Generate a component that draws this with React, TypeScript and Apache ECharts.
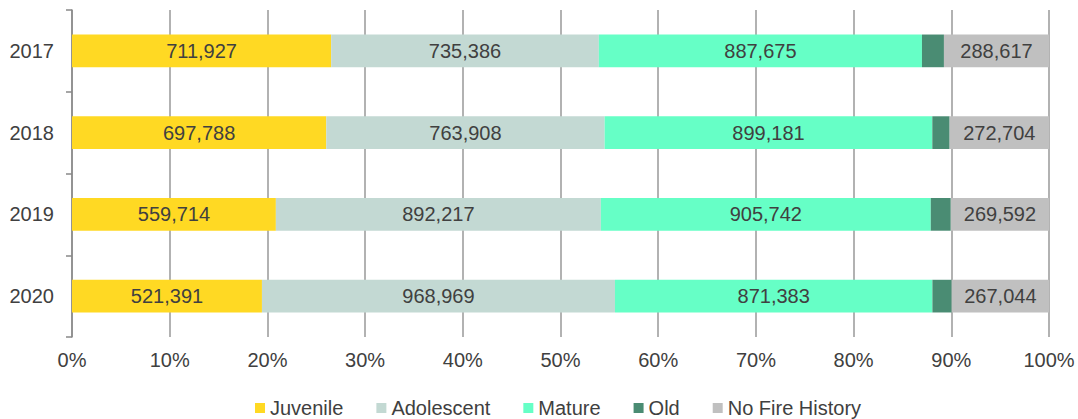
import React, { useEffect, useRef } from "react";
import * as echarts from "echarts";

const years = ["2017", "2018", "2019", "2020"];
const seriesNames = ["Juvenile", "Adolescent", "Mature", "Old", "No Fire History"];
const juvenile = [711927, 697788, 559714, 521391];
const adolescent = [735386, 763908, 892217, 968969];
const mature = [887675, 899181, 905742, 871383];
const old = [60400, 47500, 55000, 53000];
const noFireHistory = [288617, 272704, 269592, 267044];
const colors = ["#FFD923", "#C3D9D3", "#66FFC6", "#4A8C73", "#C0C0C0"];
const showLabel = [true, true, true, false, true];

export default function App() {
  const ref = useRef<HTMLDivElement>(null);
  useEffect(() => {
    if (!ref.current) return;
    const chart = echarts.init(ref.current, null, { renderer: "svg" });
    const raw = [juvenile, adolescent, mature, old, noFireHistory];
    const totals = years.map((_, i) => raw.reduce((s, arr) => s + arr[i], 0));
    const font = "'Liberation Sans', Arial, sans-serif";
    chart.setOption({
      animation: false,
      grid: { left: 72, right: 29, top: 10, bottom: 82 },
      legend: {
        data: seriesNames,
        left: 250,
        top: 393,
        itemWidth: 10,
        itemHeight: 10,
        itemGap: 33,
        icon: "rect",
        textStyle: { fontFamily: font, fontSize: 20, color: "#404040" },
      },
      xAxis: {
        type: "value",
        min: 0,
        max: 100,
        interval: 10,
        axisLine: { show: false },
        axisTick: { show: false },
        axisLabel: {
          formatter: "{value}%",
          fontFamily: font,
          fontSize: 20,
          color: "#404040",
          margin: 13,
        },
        splitLine: { show: true, lineStyle: { color: "#999", width: 1.5 } },
      },
      yAxis: {
        type: "category",
        data: years,
        inverse: true,
        axisLine: { show: true, lineStyle: { color: "#888", width: 1.5 } },
        axisTick: { show: true, length: 6, lineStyle: { color: "#888", width: 1.5 } },
        axisLabel: { fontFamily: font, fontSize: 20, color: "#404040", margin: 18 },
      },
      series: seriesNames.map((name, k) => ({
        name,
        type: "bar",
        stack: "total",
        barWidth: "40%",
        itemStyle: { color: colors[k] },
        label: {
          show: showLabel[k],
          position: "inside",
          fontFamily: font,
          fontSize: 20,
          color: "#404040",
          formatter: (p: any) => raw[k][p.dataIndex].toLocaleString("en-US"),
        },
        data: raw[k].map((v, i) => (v / totals[i]) * 100),
      })),
    });
    return () => chart.dispose();
  }, []);
  return (
    <div
      ref={ref}
      style={{ position: "absolute", left: 0, top: 0, width: 1078, height: 419 }}
    />
  );
}
